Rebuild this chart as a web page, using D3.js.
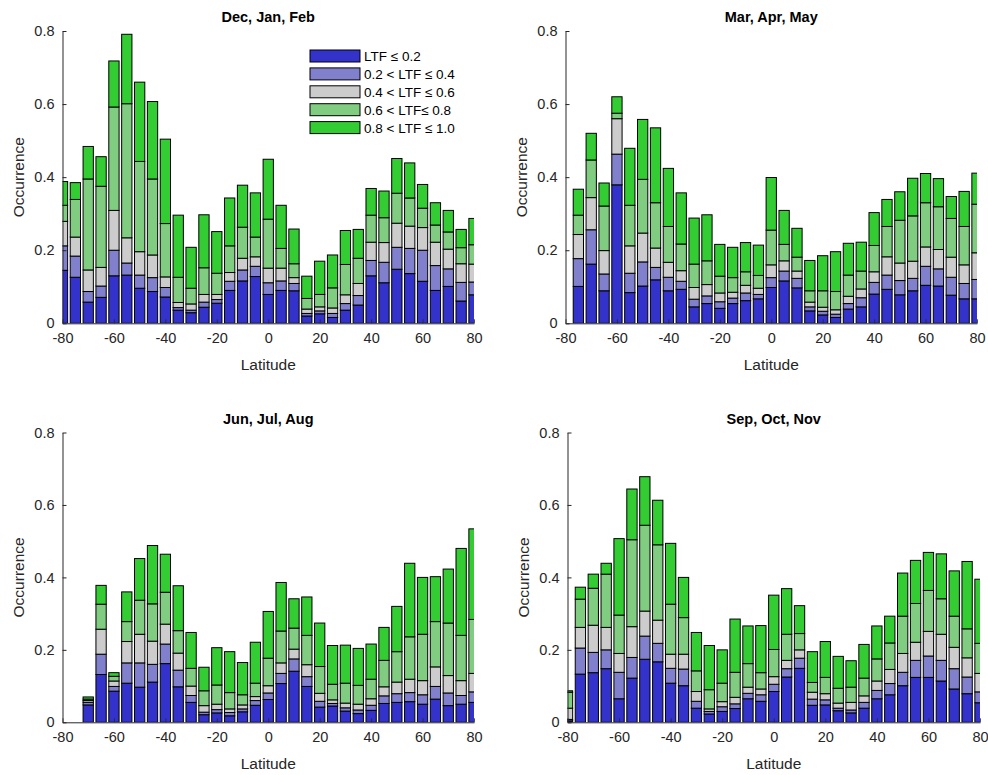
<!DOCTYPE html>
<html>
<head>
<meta charset="utf-8">
<script src="https://cdn.jsdelivr.net/npm/d3@7"></script>
<style>
  body { margin: 0; background: #fff; }
  svg { font-family: "Liberation Sans", Arial, Helvetica, sans-serif; }
  .tick text { fill: #262626; font-size: 14.5px; }
  .tick line, .domain { stroke: #262626; }
</style>
</head>
<body>
<div id="chart"></div>
<script>
// Latitude bins (bar centres)
const lats = [-80, -75, -70, -65, -60, -55, -50, -45, -40, -35, -30, -25, -20, -15, -10, -5, 0,
  5, 10, 15, 20, 25, 30, 35, 40, 45, 50, 55, 60, 65, 70, 75, 80];

const classNames = ["LTF \u2264 0.2", "0.2 < LTF \u2264 0.4", "0.4 < LTF \u2264 0.6",
  "0.6 < LTF\u2264 0.8", "0.8 < LTF \u2264 1.0"];
const classColors = ["#3333cc", "#8080cc", "#cccccc", "#80cc80", "#33cc33"];

const yTicks = [0, 0.2, 0.4, 0.6, 0.8];
const xTicks = [-80, -60, -40, -20, 0, 20, 40, 60, 80];

// cumulative occurrence (top of each LTF class in the stack), one row per class
const djf = [
  [0.145,0.126,0.058,0.071,0.130,0.132,0.096,0.087,0.072,0.036,0.029,0.044,0.055,0.090,0.116,0.128,0.079,
   0.090,0.089,0.020,0.026,0.016,0.036,0.050,0.130,0.111,0.148,0.136,0.115,0.090,0.101,0.061,0.078],
  [0.212,0.184,0.087,0.102,0.200,0.165,0.132,0.125,0.098,0.043,0.036,0.058,0.065,0.115,0.146,0.156,0.111,
   0.116,0.109,0.027,0.034,0.027,0.054,0.076,0.172,0.167,0.208,0.205,0.200,0.158,0.149,0.112,0.113],
  [0.279,0.236,0.146,0.153,0.309,0.234,0.196,0.187,0.127,0.057,0.053,0.079,0.079,0.139,0.178,0.182,0.151,
   0.151,0.125,0.039,0.045,0.042,0.078,0.109,0.222,0.221,0.274,0.266,0.262,0.222,0.203,0.163,0.162],
  [0.323,0.339,0.395,0.375,0.592,0.601,0.443,0.395,0.273,0.126,0.096,0.152,0.137,0.212,0.263,0.236,0.285,
   0.205,0.163,0.068,0.079,0.097,0.161,0.178,0.296,0.289,0.356,0.343,0.315,0.269,0.250,0.207,0.215],
  [0.388,0.385,0.484,0.456,0.718,0.791,0.660,0.607,0.504,0.296,0.208,0.297,0.251,0.343,0.378,0.357,0.449,
   0.323,0.258,0.129,0.170,0.187,0.254,0.257,0.369,0.362,0.451,0.439,0.380,0.330,0.309,0.257,0.287]
];

const mam = [
  [null,0.101,0.162,0.089,0.379,0.084,0.102,0.119,0.089,0.093,0.045,0.054,0.041,0.054,0.062,0.067,0.098,
   0.116,0.097,0.034,0.023,0.016,0.039,0.045,0.080,0.093,0.078,0.089,0.104,0.102,0.077,0.067,0.067],
  [null,0.177,0.256,0.135,0.463,0.137,0.168,0.153,0.126,0.115,0.066,0.075,0.059,0.069,0.083,0.079,0.125,
   0.143,0.123,0.045,0.033,0.025,0.054,0.070,0.112,0.132,0.117,0.123,0.156,0.149,0.126,0.109,0.120],
  [null,0.243,0.344,0.199,0.560,0.212,0.247,0.206,0.167,0.144,0.098,0.106,0.083,0.085,0.104,0.096,0.160,
   0.171,0.143,0.058,0.044,0.037,0.074,0.094,0.141,0.182,0.165,0.170,0.209,0.202,0.181,0.160,0.193],
  [null,0.296,0.447,0.321,0.575,0.323,0.394,0.330,0.265,0.217,0.162,0.171,0.129,0.125,0.141,0.131,0.255,
   0.216,0.181,0.089,0.089,0.087,0.132,0.143,0.213,0.265,0.282,0.294,0.330,0.319,0.287,0.265,0.326],
  [null,0.367,0.520,0.384,0.620,0.479,0.558,0.535,0.424,0.357,0.288,0.297,0.216,0.208,0.221,0.214,0.399,
   0.309,0.260,0.172,0.185,0.196,0.219,0.222,0.303,0.339,0.360,0.397,0.410,0.396,0.347,0.361,0.411]
];

const jja = [
  [null,null,0.048,0.132,0.086,0.108,0.097,0.111,0.162,0.098,0.055,0.021,0.026,0.018,0.029,0.047,0.063,
   0.107,0.141,0.099,0.042,0.045,0.031,0.024,0.033,0.052,0.055,0.057,0.050,0.064,0.046,0.050,0.055],
  [null,null,0.055,0.188,0.099,0.164,0.164,0.160,0.216,0.144,0.074,0.028,0.035,0.027,0.037,0.060,0.081,
   0.135,0.175,0.126,0.058,0.052,0.040,0.034,0.047,0.073,0.079,0.082,0.076,0.099,0.081,0.074,0.084],
  [null,null,0.060,0.257,0.114,0.223,0.243,0.224,0.271,0.191,0.100,0.046,0.050,0.037,0.048,0.071,0.101,
   0.164,0.202,0.159,0.080,0.062,0.053,0.050,0.065,0.098,0.111,0.119,0.115,0.153,0.129,0.115,0.135],
  [null,null,0.064,0.326,0.127,0.278,0.337,0.327,0.359,0.253,0.149,0.087,0.103,0.082,0.076,0.108,0.177,
   0.252,0.260,0.240,0.154,0.105,0.108,0.102,0.119,0.171,0.195,0.236,0.243,0.278,0.274,0.240,0.284],
  [null,null,0.070,0.378,0.137,0.360,0.452,0.488,0.464,0.377,0.248,0.152,0.206,0.195,0.165,0.221,0.306,
   0.386,0.341,0.346,0.274,0.212,0.213,0.204,0.216,0.262,0.320,0.439,0.400,0.402,0.423,0.480,0.534]
];

const son = [
  [0.004,0.133,0.137,0.148,0.065,0.122,0.174,0.167,0.108,0.101,0.039,0.023,0.030,0.038,0.065,0.058,0.085,
   0.125,0.149,0.047,0.048,0.032,0.026,0.039,0.065,0.076,0.101,0.124,0.124,0.114,0.092,0.079,0.054],
  [0.008,0.205,0.193,0.200,0.138,0.179,0.238,0.218,0.149,0.147,0.058,0.030,0.043,0.051,0.080,0.076,0.105,
   0.148,0.177,0.064,0.062,0.039,0.034,0.055,0.088,0.107,0.138,0.171,0.183,0.171,0.148,0.125,0.084],
  [0.039,0.262,0.268,0.262,0.190,0.264,0.307,0.282,0.188,0.188,0.085,0.037,0.057,0.069,0.097,0.092,0.126,
   0.171,0.200,0.083,0.079,0.053,0.055,0.073,0.114,0.146,0.190,0.221,0.251,0.243,0.207,0.178,0.135],
  [0.083,0.340,0.370,0.409,0.296,0.504,0.544,0.490,0.326,0.289,0.142,0.090,0.108,0.138,0.162,0.137,0.201,
   0.243,0.245,0.110,0.124,0.094,0.097,0.122,0.175,0.219,0.293,0.328,0.364,0.341,0.293,0.258,0.218],
  [0.087,0.373,0.409,0.439,0.507,0.644,0.678,0.613,0.494,0.400,0.248,0.212,0.200,0.285,0.266,0.267,0.351,
   0.369,0.322,0.195,0.223,0.182,0.170,0.215,0.266,0.293,0.412,0.447,0.469,0.465,0.418,0.444,0.395]
];

// panel placement (pixel box of each plot area)
const panels = [
  { title: "Dec, Jan, Feb", data: djf, left: 62.5, right: 474, bottom: 323.3, top: 31, legend: true },
  { title: "Mar, Apr, May", data: mam, left: 565.5, right: 977, bottom: 323.3, top: 31 },
  { title: "Jun, Jul, Aug", data: jja, left: 62.5, right: 474, bottom: 722.3, top: 432.5 },
  { title: "Sep, Oct, Nov", data: son, left: 567.5, right: 980, bottom: 722.3, top: 432.5 }
];

const svg = d3.select("#chart")
  .append("svg")
  .attr("width", 988)
  .attr("height", 775);

panels.forEach(function(p, pi) {
  const x = d3.scaleLinear().domain([-80, 80]).range([p.left, p.right]);
  const y = d3.scaleLinear().domain([0, 0.8]).range([p.bottom, p.top]);
  const barW = x(4) - x(0);

  const clipId = "clip" + pi;
  svg.append("clipPath").attr("id", clipId)
    .append("rect")
    .attr("x", p.left).attr("y", p.top - 5)
    .attr("width", p.right - p.left).attr("height", p.bottom - p.top + 5);

  const g = svg.append("g").attr("clip-path", `url(#${clipId})`);

  // stacked bars: each class spans previous cumulative value to its own
  p.data.forEach(function(row, k) {
    const segs = lats.map((lat, i) => ({
      lat: lat,
      lo: k === 0 ? 0 : p.data[k - 1][i],
      hi: row[i]
    })).filter(d => d.hi !== null);

    g.selectAll(null)
      .data(segs)
      .enter()
      .append("rect")
      .attr("x", d => x(d.lat) - barW / 2)
      .attr("y", d => y(d.hi))
      .attr("width", barW)
      .attr("height", d => Math.max(0, y(d.lo) - y(d.hi)))
      .attr("fill", classColors[k])
      .attr("stroke", "#000")
      .attr("stroke-width", 1);
  });

  // axes (plain hyphen minus like the original)
  svg.append("g")
    .attr("transform", `translate(0, ${p.bottom})`)
    .call(d3.axisBottom(x).tickValues(xTicks).tickSizeInner(-4).tickSizeOuter(0).tickPadding(9)
      .tickFormat(d => String(d)))
    .call(a => a.selectAll(".tick line").attr("stroke-width", 0.8));

  svg.append("g")
    .attr("transform", `translate(${p.left}, 0)`)
    .call(d3.axisLeft(y).tickValues(yTicks).tickSizeInner(-4).tickSizeOuter(0).tickPadding(8)
      .tickFormat(d => d === 0 ? "0" : d3.format(".1f")(d)));

  // titles and labels
  const cx = (p.left + p.right) / 2;
  svg.append("text")
    .attr("x", cx).attr("y", p.top - 9)
    .attr("text-anchor", "middle")
    .attr("font-size", 14.5).attr("font-weight", "bold")
    .attr("fill", "#000")
    .text(p.title);

  svg.append("text")
    .attr("x", cx).attr("y", p.bottom + 47)
    .attr("text-anchor", "middle")
    .attr("font-size", 15.5).attr("fill", "#262626")
    .text("Latitude");

  svg.append("text")
    .attr("transform", `translate(${p.left - 39}, ${(p.top + p.bottom) / 2}) rotate(-90)`)
    .attr("text-anchor", "middle")
    .attr("font-size", 15.5).attr("fill", "#262626")
    .text("Occurrence");

  if (p.legend) {
    const lg = svg.append("g").attr("transform", "translate(310, 50)");
    classNames.forEach(function(name, k) {
      lg.append("rect")
        .attr("x", 0).attr("y", k * 17.9)
        .attr("width", 50).attr("height", 12)
        .attr("fill", classColors[k])
        .attr("stroke", "#000").attr("stroke-width", 1);
      lg.append("text")
        .attr("x", 54).attr("y", k * 17.9 + 11)
        .attr("font-size", 13.5).attr("fill", "#000")
        .text(name);
    });
  }
});
</script>
</body>
</html>
